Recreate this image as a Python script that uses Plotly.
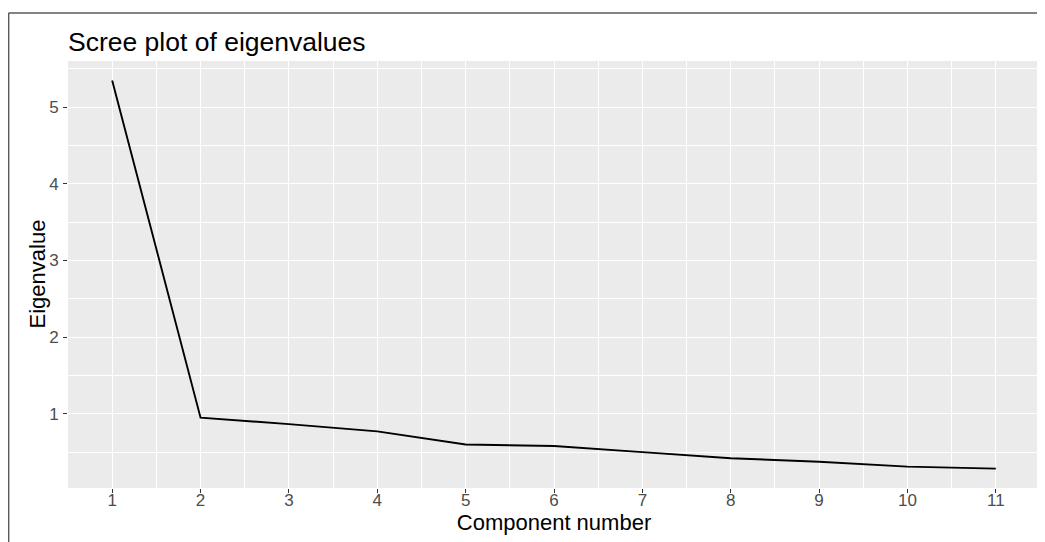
import plotly.graph_objects as go

components = [1, 2, 3, 4, 5, 6, 7, 8, 9, 10, 11]
eigenvalues = [5.35, 0.95, 0.865, 0.77, 0.60, 0.58, 0.50, 0.42, 0.375, 0.31, 0.285]
x_ticks = [1, 2, 3, 4, 5, 6, 7, 8, 9, 10, 11]
y_ticks = [1, 2, 3, 4, 5]

# page body has an 8px margin, so the figure is laid out 8px smaller
OFF = 8
W, H = 1045 - OFF, 542 - OFF
ml, mr, mt, mb = 68 - OFF, 5, 61 - OFF, 542 - 488
pw, ph = W - ml - mr, H - mt - mb

def px_x(p):
    return (p - OFF - ml) / pw

def px_y(p):
    return (H - mb - (p - OFF)) / ph

fig = go.Figure()
fig.add_trace(go.Scatter(
    x=components, y=eigenvalues, mode="lines",
    line=dict(color="black", width=1.9), showlegend=False,
))

FONT = "Liberation Sans, Arial, sans-serif"

# ggplot-like expansion (5%)
xr = max(components) - min(components)
yr = max(eigenvalues) - min(eigenvalues)
x_range = [min(components) - 0.05 * xr, max(components) + 0.05 * xr]
y_range = [min(eigenvalues) - 0.05 * yr, max(eigenvalues) + 0.05 * yr]

axis_common = dict(
    showline=False, zeroline=False,
    ticks="outside", ticklen=4, tickwidth=1.1, tickcolor="#333333",
    tickfont=dict(family=FONT, size=17, color="#4D4D4D"),
    gridcolor="white", gridwidth=1.2,
)

fig.update_layout(
    width=W, height=H,
    margin=dict(l=ml, r=mr, t=mt, b=mb, pad=0),
    paper_bgcolor="white", plot_bgcolor="#EBEBEB",
    title=dict(text="Scree plot of eigenvalues", x=(68 - OFF) / W, xanchor="left",
               xref="container", y=1 - (51 - OFF - 0.35 * 26.5) / H, yanchor="middle",
               yref="container",
               font=dict(family=FONT, size=26.5, color="black")),
    xaxis=dict(range=x_range, tickvals=x_ticks, ticktext=[str(v) for v in x_ticks],
               ticklabelstandoff=-7,
               minor=dict(tickvals=[v + 0.5 for v in x_ticks[:-1]], showgrid=True,
                          gridcolor="white", gridwidth=0.6, ticks=""),
               title=dict(text="Component number", standoff=4,
                          font=dict(family=FONT, size=22, color="black")),
               **axis_common),
    yaxis=dict(range=y_range, tickvals=y_ticks, ticktext=[str(v) for v in y_ticks],
               ticklabelstandoff=1,
               minor=dict(tickvals=[v - 0.5 for v in y_ticks] + [y_ticks[-1] + 0.5], showgrid=True,
                          gridcolor="white", gridwidth=0.6, ticks=""),
               **axis_common),
)

# y-axis title as a rotated annotation for precise placement
fig.add_annotation(text="Eigenvalue", textangle=-90, showarrow=False,
                   xref="paper", yref="paper", x=px_x(37), y=0.5,
                   xanchor="center", yanchor="middle",
                   font=dict(family=FONT, size=22, color="black"))

# image frame (top and left edges)
fig.add_shape(type="line", xref="paper", yref="paper",
              x0=px_x(8.6), x1=px_x(1046), y0=px_y(13), y1=px_y(13),
              line=dict(color="#5A5A5A", width=1.6))
fig.add_shape(type="line", xref="paper", yref="paper",
              x0=px_x(8.6), x1=px_x(8.6), y0=px_y(13), y1=px_y(543),
              line=dict(color="#5A5A5A", width=1.6))

fig.write_html("out.html")
